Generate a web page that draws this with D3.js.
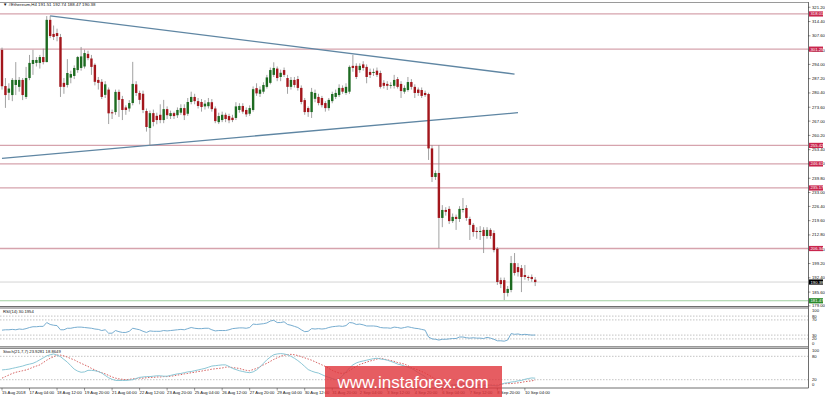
<!DOCTYPE html>
<html>
<head>
<meta charset="utf-8">
<script src="https://cdn.jsdelivr.net/npm/d3@7"></script>
<style>
  body { margin: 0; background: #fff; }
  svg { display: block; }
  text { font-family: "Liberation Sans", "DejaVu Sans", sans-serif; }
</style>
</head>
<body>
<svg id="chart" width="825" height="397"></svg>
<script>
// #Ethereum, H4 bars from 15 Aug 2018 20:00 to 10 Sep 2018 16:00
const opens = [300.9,283.7,280.5,279.4,284.2,283.3,286.6,278.5,287.5,294.2, 294.7,294.7,297.5,295.1,315.2,308.5,308.9,307.0,285.2,284.2,
  287.7,288.5,291.3,292.3,293.0,299.0,296.8,293.8,286.6,285.7, 279.5,282.0,271.2,271.3,280.9,277.5,273.5,273.0,275.6,284.5,
  280.4,280.0,271.8,263.7,270.8,269.5,270.0,267.5,272.7,269.4, 270.8,269.8,271.0,273.2,270.5,276.1,278.5,276.5,276.1,274.0,
  274.1,276.0,273.0,266.5,267.5,270.0,269.4,268.6,268.5,272.3, 274.2,272.3,270.5,272.3,282.7,280.0,281.0,283.3,285.2,289.0,
  292.0,288.0,291.3,287.5,283.3,286.6,287.0,282.8,277.0,273.2, 271.3,277.6,278.5,278.0,275.6,273.2,276.5,278.5,279.4,282.8,
  280.4,281.0,293.3,293.3,291.3,294.0,292.8,290.4,289.9,291.0, 289.9,285.2,284.7,283.8,283.8,287.0,284.7,281.0,281.8,285.6,
  283.3,282.0,281.8,280.4,279.9,254.0,240.4,242.3,220.9,224.7, 225.2,219.4,221.4,220.4,224.7,225.6,220.4,217.6,214.7,214.2,
  215.2,212.3,215.2,213.7,206.2,191.3,191.3,185.2,186.6,199.4, 197.5,197.0,193.7,192.8,192.8,191.51];
const highs = [302.0,287.5,285.0,287.5,295.1,288.0,287.5,292.8,298.5,300.9, 297.5,298.5,301.5,317.0,317.1,312.5,311.0,308.5,287.5,296.5,
  291.0,293.5,298.0,302.3,301.0,300.5,298.5,294.5,288.0,287.0, 286.0,283.0,272.5,282.0,282.0,279.0,274.5,277.0,295.2,286.0,
  281.5,281.5,273.0,272.0,272.5,271.0,275.0,277.1,274.0,272.0, 271.5,273.5,275.0,275.0,278.0,281.0,280.0,278.0,277.5,277.0,
  278.0,277.5,274.0,271.0,271.5,271.0,270.5,270.0,276.0,275.5, 275.5,273.5,274.5,283.5,285.0,283.5,285.5,289.0,292.5,295.0,
  293.0,291.5,292.5,289.0,288.0,288.0,288.5,284.0,278.0,274.0, 282.8,282.0,280.0,279.0,276.5,278.0,281.0,282.0,284.5,284.0,
  285.0,293.5,298.5,294.5,294.5,295.5,294.0,292.0,292.0,292.5, 291.0,286.5,286.0,285.5,289.0,288.0,286.0,284.0,288.0,287.0,
  284.5,283.0,283.0,281.5,280.5,255.5,243.5,255.5,227.0,226.0, 226.5,223.0,222.5,226.5,230.4,227.0,221.5,218.5,216.5,217.0,
  216.5,216.5,216.0,215.0,207.0,192.5,192.5,188.5,202.8,204.2, 199.4,198.5,198.5,193.5,194.0,192.74];
const lows = [282.0,273.3,277.0,276.5,279.4,281.0,277.0,277.5,286.5,289.0, 293.0,292.0,294.0,295.0,306.5,305.6,305.0,278.5,280.0,283.0,
  285.0,287.0,290.0,291.0,292.0,296.0,289.0,284.0,282.0,277.5, 278.0,265.6,268.0,270.0,269.0,267.5,270.0,271.5,274.5,279.0,
  275.0,270.8,262.0,255.2,264.5,265.5,266.0,266.0,268.0,268.0, 268.0,268.5,270.0,267.5,269.5,275.0,275.0,273.0,271.5,272.5,
  273.0,271.5,266.0,265.6,266.5,266.5,266.0,266.5,267.5,271.0, 270.5,269.0,269.5,271.5,279.0,278.5,280.0,282.5,284.5,288.0,
  286.0,286.0,288.0,280.0,282.0,283.0,281.5,275.0,270.0,269.0, 268.5,276.0,274.5,273.5,271.5,272.0,275.5,277.5,278.5,280.0,
  279.5,280.0,290.5,287.0,290.0,291.0,285.0,287.5,288.5,288.0, 282.5,282.5,281.8,282.5,282.5,282.5,278.0,280.0,281.0,282.0,
  278.0,279.0,278.0,278.5,248.5,238.0,239.0,206.5,216.5,222.0, 218.0,218.5,215.2,219.0,223.5,219.5,210.4,212.0,211.0,210.4,
  204.2,211.0,211.0,204.5,189.0,187.5,181.8,183.5,185.5,193.5, 193.0,185.6,191.5,191.0,190.5,188.47];
const closes = [283.6,279.4,282.5,286.6,286.6,286.6,279.4,287.5,294.7,296.1, 296.1,297.5,295.1,315.2,307.5,307.1,307.5,283.3,283.3,289.9,
  289.4,292.3,297.5,297.8,299.4,297.0,292.8,285.7,285.2,278.5, 284.5,270.7,270.7,280.9,277.1,272.3,272.3,275.6,284.7,280.4,
  277.1,272.3,264.2,270.8,266.6,267.5,267.5,272.7,269.8,270.8, 269.4,272.3,273.2,269.8,276.1,278.5,276.5,274.2,273.7,275.3,
  276.0,272.7,267.0,269.4,270.0,268.0,267.4,267.5,274.0,274.2, 271.5,270.2,273.2,282.2,280.2,282.0,284.2,287.8,291.3,292.3,
  287.5,290.0,289.0,283.3,286.6,284.2,282.8,276.1,271.3,271.3, 280.9,280.4,275.6,274.6,273.2,277.1,279.9,280.4,282.8,281.0,
  283.3,292.8,292.3,288.0,293.3,292.3,288.0,289.0,290.4,289.0, 283.3,283.8,283.8,284.2,286.6,283.3,281.3,282.8,285.6,283.3,
  280.4,280.4,279.0,279.4,254.0,240.4,242.3,220.9,224.7,223.8, 219.4,221.4,220.4,225.2,225.2,220.9,217.6,214.2,214.2,214.7,
  212.3,215.2,212.3,205.6,190.4,189.4,185.2,187.1,199.4,194.7, 195.1,192.8,192.8,192.3,191.8,190.38];

const rsiValues = [43,44,44,45,44,46,45,47,50,52, 52,53,53,63,58,56,55,44,44,48, 48,50,51,51,50,49,48,46,45,42,
  44,35,35,42,39,37,37,40,48,46, 44,40,37,41,40,40,40,42,41,42, 43,44,45,44,47,50,48,47,47,48,
  48,44,41,42,42,42,44,47,48,49, 49,48,50,59,58,59,60,62,67,69, 63,63,65,58,56,53,50,44,39,40,
  47,46,47,46,47,50,52,53,54,53, 55,63,62,58,59,57,54,54,54,53, 50,49,49,48,51,50,48,50,52,50,
  48,47,45,43,25,20,19,17,19,19, 20,21,21,25,25,23,22,23,22,22, 21,24,22,19,15,15,14,17,34,32,
  33,31,32,31,30,30.1954];
const stochMain = [45,46,47,49,51,53,55,58,60,62, 66,71,76,81,84,86,83,79,72,65, 56,47,42,39,40,44,44,43,41,37,
  31,25,21,18,18,18,18,19,20,23, 26,27,28,28,29,30,30,29,29,31, 33,35,36,38,40,41,43,45,47,49,
  52,55,56,57,58,58,54,49,46,43, 41,39,38,40,45,53,62,71,78,84, 86,87,86,84,80,75,69,62,54,46,
  42,39,37,33,29,26,23,20,22,30, 40,50,58,63,66,68,70,72,74,75, 73,72,70,67,64,60,58,55,52,49,
  44,38,33,28,18,10,7,4,5,6, 5,6,7,9,10,9,8,7,6,6, 5,6,6,5,4,8,11,12,14,15,
  17,18,21,23,24.5,23.9281];
const stochSignal = [24,28,32,36,39,41,43,45,48,52, 55,58,64,70,75,79,83,83,81,78, 74,71,66,62,58,54,49,45,41,38,
  35,31,27,24,22,21,20,21,22,23, 24,24,25,26,26,27,27,28,28,29, 30,32,33,35,36,38,39,41,42,44,
  45,47,48,49,50,52,53,51,50,49, 46,44,43,46,49,53,58,62,67,72, 76,80,83,84,85,84,82,79,76,73,
  70,66,62,58,54,49,44,40,37,36, 38,43,49,54,59,62,65,68,70,73, 75,73,71,69,67,64,62,60,56,51,
  48,45,41,37,32,27,21,16,12,9, 7,6,6,7,7,8,8,8,7,7, 6,6,6,6,6,8,10,10,10,11,
  12,13,15,16,17,18.8649];

// time axis: one label every 8 bars
const dateLabels = ["15 Aug 2018","17 Aug 04:00","18 Aug 12:00","19 Aug 20:00","21 Aug 04:00","22 Aug 12:00",
  "23 Aug 20:00","25 Aug 04:00","26 Aug 12:00","27 Aug 20:00","29 Aug 04:00","30 Aug 12:00","31 Aug 20:00",
  "2 Sep 04:00","3 Sep 12:00","4 Sep 20:00","6 Sep 04:00","7 Sep 12:00","8 Sep 20:00","10 Sep 04:00"];
const priceTicks = [321.20,314.40,307.60,300.80,294.00,287.20,280.40,273.60,267.00,260.20,253.40,246.60,
  239.80,233.00,226.40,219.60,212.80,206.00,199.20,192.40,185.60,179.00];

// horizontal levels and trend lines
const redLevels = [318.01, 301.25, 255.42, 246.61, 235.17, 206.34];
const supportLevel = 181.47;
const lastPrice = 190.38;
const upperTrendBars = [14, 149], upperTrendPrices = [317.1, 289.4];
const lowerTrendBars = [0, 150], lowerTrendPrices = [249.3, 271.0];

const svg = d3.select("#chart");
const right = 808;
const main = { top: 2, bottom: 307 }, rsiP = { top: 308, bottom: 347 }, stP = { top: 348, bottom: 388 };

const x = d3.scaleLinear().domain([0, 155]).range([2, 2 + 155 * 3.44]);
const y = d3.scaleLinear().domain([178.5, 323.7]).range([main.bottom, main.top]);
const yR = d3.scaleLinear().domain([0, 100]).range([346.5, 308.5]);
const yS = d3.scaleLinear().domain([0, 100]).range([387.5, 348.5]);

svg.append("clipPath").attr("id", "clipMain").append("rect")
  .attr("x", 0).attr("y", main.top).attr("width", right).attr("height", main.bottom - main.top);

const bars = opens.map((o, i) => ({ i, o, h: highs[i], l: lows[i], c: closes[i] }));

// level lines
svg.selectAll(".lvl").data(redLevels).enter().append("line")
  .attr("x1", 0).attr("x2", right).attr("y1", d => y(d)).attr("y2", d => y(d))
  .attr("stroke", "#d6a3ad").attr("stroke-width", 1.3);
svg.append("line").attr("x1", 0).attr("x2", right).attr("y1", y(supportLevel)).attr("y2", y(supportLevel))
  .attr("stroke", "#9fcf9f").attr("stroke-width", 1.2);
svg.append("line").attr("x1", 0).attr("x2", right).attr("y1", y(lastPrice)).attr("y2", y(lastPrice))
  .attr("stroke", "#d4d4d4").attr("stroke-width", 1);

// trend lines
[[upperTrendBars, upperTrendPrices], [lowerTrendBars, lowerTrendPrices]].forEach(([b, p]) => {
  svg.append("line")
    .attr("x1", x(b[0])).attr("y1", y(p[0])).attr("x2", x(b[1])).attr("y2", y(p[1]))
    .attr("stroke", "#5f86a3").attr("stroke-width", 1.3);
});

// candles
const cg = svg.append("g").attr("clip-path", "url(#clipMain)");
cg.selectAll(".wick").data(bars).enter().append("line")
  .attr("x1", d => x(d.i)).attr("x2", d => x(d.i))
  .attr("y1", d => y(d.h)).attr("y2", d => y(d.l))
  .attr("stroke", "#8a8a8a").attr("stroke-width", 0.8);
cg.selectAll(".body").data(bars).enter().append("rect")
  .attr("x", d => x(d.i) - 1.2).attr("width", 2.4)
  .attr("y", d => y(Math.max(d.o, d.c)))
  .attr("height", d => Math.max(0.8, Math.abs(y(d.o) - y(d.c))))
  .attr("fill", d => d.c >= d.o ? "#1d6b21" : "#a3161c");

// indicator levels
const dotted = (sc, v) => svg.append("line").attr("x1", 0).attr("x2", right)
  .attr("y1", sc(v)).attr("y2", sc(v)).attr("stroke", "#b4b4b4").attr("stroke-width", 0.8)
  .attr("stroke-dasharray", "1.5,1.5");
[80, 70, 30, 20].forEach(v => dotted(yR, v));
[80, 20].forEach(v => dotted(yS, v));

const line = sc => d3.line().x((d, i) => x(i)).y(d => sc(d));
svg.append("path").datum(rsiValues).attr("d", line(yR))
  .attr("fill", "none").attr("stroke", "#77add0").attr("stroke-width", 1);
svg.append("path").datum(stochSignal).attr("d", line(yS))
  .attr("fill", "none").attr("stroke", "#d0504f").attr("stroke-width", 0.9).attr("stroke-dasharray", "1.5,1.5");
svg.append("path").datum(stochMain).attr("d", line(yS))
  .attr("fill", "none").attr("stroke", "#8cc7d6").attr("stroke-width", 1);

// frames
const border = "#6e6e6e";
svg.append("line").attr("x1", 0).attr("x2", right).attr("y1", main.top + 0.5).attr("y2", main.top + 0.5).attr("stroke", "#9a9a9a");
[306.5, 308, 346.8, 348.3, 388].forEach(v =>
  svg.append("line").attr("x1", 0).attr("x2", right + 0.5).attr("y1", v).attr("y2", v).attr("stroke", border).attr("stroke-width", 1));
svg.append("line").attr("x1", right + 0.5).attr("x2", right + 0.5).attr("y1", main.top).attr("y2", 388).attr("stroke", border);

// price axis
const fs = 4.2;
const pa = svg.append("g");
pa.selectAll("line").data(priceTicks).enter().append("line")
  .attr("x1", right).attr("x2", right + 2.5).attr("y1", d => y(d)).attr("y2", d => y(d)).attr("stroke", "#333").attr("stroke-width", 0.5);
pa.selectAll("text").data(priceTicks).enter().append("text")
  .attr("x", right + 4).attr("y", d => y(d)).attr("dy", "0.35em")
  .attr("font-size", fs).attr("fill", "#111").text(d => d.toFixed(2));

// level tags
const tag = (v, fill) => {
  svg.append("rect").attr("x", right + 1).attr("y", y(v) - 2.6).attr("width", 14).attr("height", 5.2).attr("fill", fill);
  svg.append("text").attr("x", right + 2.5).attr("y", y(v)).attr("dy", "0.35em")
    .attr("font-size", fs).attr("fill", "#fff").text(v.toFixed(2));
};
redLevels.forEach(v => tag(v, "#c9254d"));
tag(lastPrice, "#000");
tag(supportLevel, "#2b8a2b");

// indicator axis labels
const indLabel = (sc, v, top, bottom) => svg.append("text")
  .attr("x", right + 4).attr("y", Math.min(Math.max(sc(v), top + 3), bottom - 3)).attr("dy", "0.35em")
  .attr("font-size", fs).attr("fill", "#111").text(v);
[100, 80, 70, 30, 20, 0].forEach(v => indLabel(yR, v, rsiP.top, rsiP.bottom));
[100, 80, 20, 0].forEach(v => indLabel(yS, v, stP.top, stP.bottom));

// time axis
svg.selectAll(".dt").data(dateLabels).enter().append("text")
  .attr("x", (d, k) => x(k * 8)).attr("y", 393.5)
  .attr("font-size", fs).attr("fill", "#111").text(d => d);
svg.selectAll(".dtk").data(dateLabels).enter().append("line")
  .attr("x1", (d, k) => x(k * 8)).attr("x2", (d, k) => x(k * 8)).attr("y1", 388).attr("y2", 390.5)
  .attr("stroke", "#333").attr("stroke-width", 0.5);

// titles
svg.append("text").attr("x", 3).attr("y", 6.2).attr("font-size", 4.4).attr("fill", "#111")
  .text("\u25BC #Ethereum,H4  191.51 192.74 188.47 190.38");
svg.append("text").attr("x", 3).attr("y", 313.3).attr("font-size", fs).attr("fill", "#111").text("RSI(14) 30.1954");
svg.append("text").attr("x", 3).attr("y", 353.3).attr("font-size", fs).attr("fill", "#111").text("Stoch(21,7,7) 23.9281 18.8649");

// watermark
svg.append("rect").attr("x", 325).attr("y", 366).attr("width", 177).attr("height", 31)
  .attr("fill", "#e0353b").attr("opacity", 0.8);
svg.append("text").attr("x", 413).attr("y", 388).attr("text-anchor", "middle")
  .attr("font-size", 17).attr("fill", "#fff").text("www.instaforex.com");
</script>
</body>
</html>
